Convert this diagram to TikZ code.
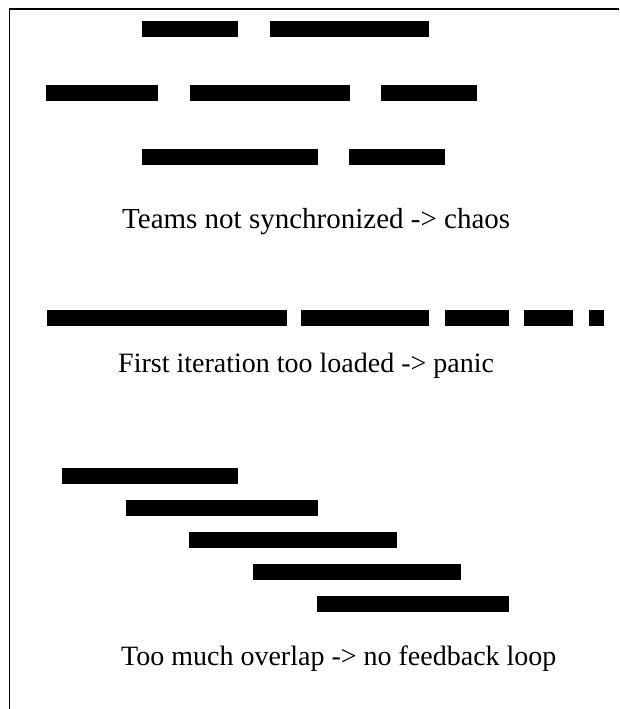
\documentclass[tikz,border=0pt]{standalone}
\usepackage{fontspec}
\setmainfont{Liberation Serif}
\tikzset{
  bar/.style={fill=black},
  caption/.style={anchor=base west, inner sep=0pt, font=\fontsize{28}{32}\selectfont}
}
\begin{document}
\begin{tikzpicture}[x=1pt, y=-1pt]
    \useasboundingbox (0, 0) rectangle (619, 709);
    \draw [line width=1.5pt] (9.25, 709) -- (9.25, 9.25) -- (619, 9.25);

    % teams out of step
    \fill [bar] (142, 21) rectangle (238, 37);
    \fill [bar] (270, 21) rectangle (429, 37);
    \fill [bar] (46, 85) rectangle (158, 101);
    \fill [bar] (190, 85) rectangle (350, 101);
    \fill [bar] (381, 85) rectangle (477, 101);
    \fill [bar] (142, 149) rectangle (318, 165);
    \fill [bar] (349, 149) rectangle (445, 165);
    \node [caption, font=\fontsize{29}{33}\selectfont] (chaos) at (122, 228) {Teams not synchronized -> chaos};

    % overloaded first iteration
    \foreach \a/\b in {47/287, 301/429, 445/509, 524/573, 589/604}
      \fill [bar] (\a, 310) rectangle (\b, 326);
    \node [caption] (panic) at (118, 372) {First iteration too loaded -> panic};

    % overlapping iterations
    \foreach \a/\b [count=\i from 0] in {62/238, 126/318, 189/397, 253/461, 317/509}
      \fill [bar] (\a, 468 + 32*\i) rectangle (\b, 484 + 32*\i);
    \node [caption] (loop) at (121, 665) {Too much overlap -> no feedback loop};
  \end{tikzpicture}
\end{document}
